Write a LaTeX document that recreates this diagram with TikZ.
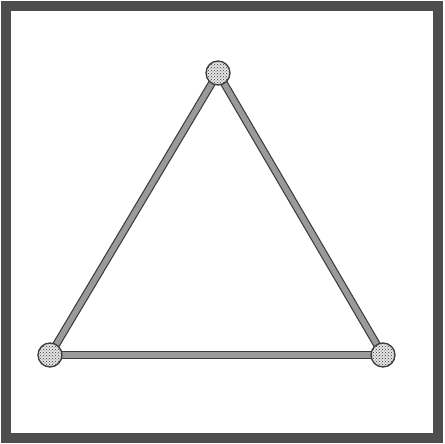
\documentclass[tikz,border=0pt]{standalone}
\usetikzlibrary{patterns}
\definecolor{frame}{HTML}{4E4E4E}
\definecolor{rod}{HTML}{9A9A9A}
\definecolor{rodedge}{HTML}{3C3C3C}
\tikzset{
  rodline/.style={draw=rodedge, line width=1.2pt, double=rod, double distance=5.5pt},
  joint/.style={circle, minimum size=24pt, inner sep=0pt, draw=rodedge, line width=1.3pt,
    pattern=crosshatch dots, pattern color=gray!40!black},
  jointbg/.style={circle, minimum size=24pt, inner sep=0pt, fill=gray!20}
}
\begin{document}
\begin{tikzpicture}[x=1pt,y=-1pt]
\useasboundingbox (0,0) rectangle (444,444);
\fill[white] (0,0) rectangle (444,444);
\draw[frame, line width=9.5pt] (6,6) rectangle (438,438);
\coordinate (ta) at (218,73);
\coordinate (la) at (50,355);
\coordinate (ra) at (383,355);
\draw[rodline] (ta) -- (la);
\draw[rodline] (la) -- (ra);
\draw[rodline] (ra) -- (ta);
\node[jointbg] at (ta) {};
\node[jointbg] at (la) {};
\node[jointbg] at (ra) {};
\node[joint] (t) at (ta) {};
\node[joint] (l) at (la) {};
\node[joint] (r) at (ra) {};
\end{tikzpicture}
\end{document}
